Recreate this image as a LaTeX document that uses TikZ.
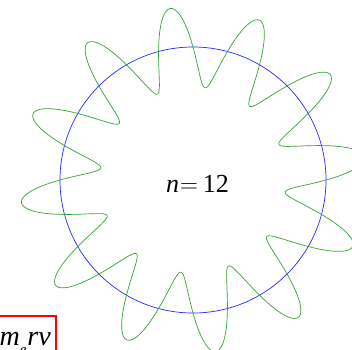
\documentclass[tikz,border=0pt]{standalone}
\usepackage{fontspec}
\setmainfont{Liberation Serif}
\begin{document}
\begin{tikzpicture}[x=1pt,y=-1pt,
  orbit/.style={blue!85, line width=0.7pt},
  wave/.style={green!55!black!80, line width=0.7pt},
  labelbox/.style={draw=red, line width=1.8pt},
  bigtext/.style={font=\fontsize{26}{30}\selectfont, inner sep=0pt}]
\useasboundingbox (0,0) rectangle (352,349);
\clip (0,0) rectangle (352,349);
\coordinate (c) at (193,180);
\draw[orbit] (c) circle[radius=133];
\draw[wave] plot[domain=0:360, samples=1441, smooth]
  ({193+(133+40*sin(12*\x))*cos(\x)}, {180-(133+40*sin(12*\x))*sin(\x)});
\node[bigtext] (nlabel) at (197.5,183.5) {{\itshape n}\kern1pt$=$\kern5pt12};
\draw[labelbox] (-20,316) rectangle (56,365);
\node[bigtext, font=\fontsize{28}{32}\selectfont, anchor=base east] (mlabel) at (51,345) {\itshape m\raisebox{-0.35em}{\fontsize{15}{17}\selectfont e}\kern1pt rv};
\end{tikzpicture}
\end{document}
